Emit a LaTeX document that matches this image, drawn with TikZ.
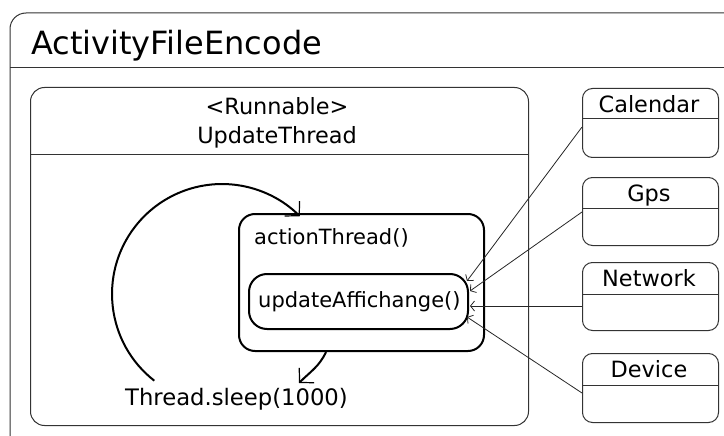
\documentclass[tikz,border=0pt]{standalone}
\usepackage{fontspec}
\setmainfont{DejaVu Sans}
\usetikzlibrary{arrows.meta,calc}
\begin{document}
\begin{tikzpicture}[x=1pt,y=1pt,
  thinline/.style={line width=1pt, draw=black!80},
  cls/.style={thinline, draw, rounded corners=10pt, minimum width=136pt, anchor=north west, inner sep=0},
  statebox/.style={line width=2pt, draw=black, rounded corners=16pt, anchor=north west, inner sep=0},
  txt/.style={font=\fontsize{21}{25}\selectfont, inner sep=0},
  bigtxt/.style={font=\fontsize{22.4}{27}\selectfont, inner sep=0},
  dep/.style={line width=0.8pt, draw=black!85, -{Straight Barb[length=4pt,width=10pt]}},
  flow/.style={line width=2pt, -{Straight Barb[length=10pt,width=21pt,line width=1.2pt]}}
]
\useasboundingbox (0,0) rectangle (724,-436);
\begin{scope}
\clip (0,0) rectangle (724,-436);
\draw[thinline, rounded corners=16pt] (760,-13) -- (10,-13) -- (10,-470);
\draw[thinline] (10,-68) -- (760,-68);
\end{scope}
\node[font=\fontsize{32}{38}\selectfont, inner sep=0, anchor=base west] (title) at (31,-55) {ActivityFileEncode};

% Runnable box
\node[thinline, draw, rounded corners=14pt, minimum width=498pt, minimum height=338pt, anchor=north west, inner sep=0] (thread) at (30,-87) {};
\draw[thinline] (thread.west |- 0,-155) -- (thread.east |- 0,-155);
\node[bigtxt, anchor=base] (stereo) at (277,-115) {<Runnable>};
\node[bigtxt, anchor=base] (tname) at (277,-143) {UpdateThread};

% states
\node[statebox, minimum width=245pt, minimum height=137pt] (action) at (238,-213) {};
\node[txt, anchor=base west] (actlbl) at (254,-244) {actionThread()};
\node[statebox, rounded corners=18pt, minimum width=219pt, minimum height=55pt] (upd) at (248,-273) {};
\node[txt, anchor=base west] (updlbl) at (258,-307) {updateAffichange()};

\node[font=\fontsize{22.7}{27}\selectfont, inner sep=0, anchor=base west] (sleep) at (125,-405) {Thread.sleep(1000)};

\coordinate (loopstart) at (154.3,-380.7);
\coordinate (sleeptop) at (299,-383);
\draw[flow] (loopstart) arc[start angle=232, end angle=45, radius=110];
\draw[flow] (action.south -| 326,0) to[out=-115, in=45] (sleeptop);

% right classes
\node[cls, minimum height=69pt] (cal) at (582,-88) {};
\draw[thinline] (cal.west |- 0,-119) -- (cal.east |- 0,-119);
\node[bigtxt, anchor=base] (callbl) at (649,-113) {Calendar};

\node[cls, minimum height=68pt] (gps) at (582,-177) {};
\draw[thinline] (gps.west |- 0,-208) -- (gps.east |- 0,-208);
\node[bigtxt, anchor=base] (gpslbl) at (649,-201) {Gps};

\node[cls, minimum height=68pt] (net) at (582,-262) {};
\draw[thinline] (net.west |- 0,-294) -- (net.east |- 0,-294);
\node[bigtxt, anchor=base] (netlbl) at (649,-286) {Network};

\node[cls, minimum height=69pt] (dev) at (582,-353) {};
\draw[thinline] (dev.west |- 0,-385) -- (dev.east |- 0,-385);
\node[bigtxt, anchor=base] (devlbl) at (649,-377) {Device};

% dependencies
\draw[dep] (cal.west |- 0,-127) -- (467,-281);
\draw[dep] (gps.west |- 0,-212) -- (470,-291);
\draw[dep] (net.west |- 0,-306) -- (470,-306);
\draw[dep] (dev.west |- 0,-393) -- (467,-317);
\end{tikzpicture}
\end{document}
